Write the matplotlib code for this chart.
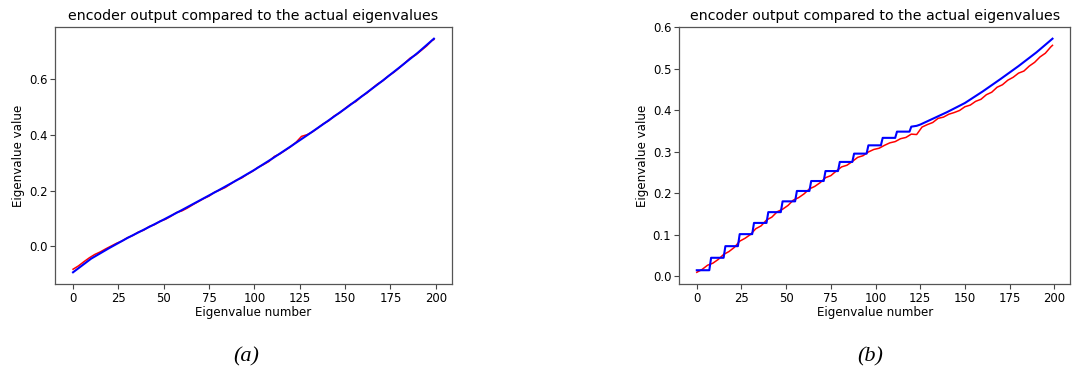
"""
encoder output vs actual eigenvalues, two panels
"""
import matplotlib
matplotlib.use("Agg")
import matplotlib.pyplot as plt

# ---- panel (a): smooth eigenvalues ----
actual_a_x = [0, 10, 20, 30, 40, 50, 60, 70, 80, 90, 100, 110, 120, 130, 140,
              150, 160, 170, 180, 190, 199]
actual_a_y = [-0.093, -0.044, -0.006, 0.030, 0.063, 0.096, 0.130, 0.165, 0.200,
              0.236, 0.274, 0.315, 0.358, 0.402, 0.447, 0.493, 0.541, 0.590,
              0.641, 0.693, 0.744]

encoder_a_x = list(range(0, 199, 3)) + [199]
encoder_a_y = [-0.082, -0.070, -0.055, -0.041, -0.029, -0.020, -0.009, 0.001,
               0.011, 0.019, 0.031, 0.039, 0.051, 0.058, 0.071, 0.078, 0.090,
               0.097, 0.108, 0.121, 0.127, 0.137, 0.149, 0.160, 0.171, 0.180,
               0.194, 0.202, 0.211, 0.224, 0.237, 0.245, 0.258, 0.269, 0.283,
               0.293, 0.304, 0.322, 0.331, 0.344, 0.357, 0.373, 0.394, 0.400,
               0.410, 0.424, 0.439, 0.450, 0.467, 0.478, 0.494, 0.509, 0.519,
               0.537, 0.549, 0.566, 0.582, 0.594, 0.611, 0.624, 0.640, 0.657,
               0.675, 0.686, 0.702, 0.718, 0.738, 0.741]

# ---- panel (b): degenerate eigenvalues (staircase) ----
actual_b_x = [0, 7, 8, 15, 16, 23, 24, 31, 32, 39, 40, 47, 48, 55, 56, 63, 64,
              71, 72, 79, 80, 87, 88, 95, 96, 103, 104, 111, 112, 119, 120, 123,
              125, 130, 140, 150, 160, 170, 180, 190, 199]
actual_b_y = [0.015, 0.015, 0.045, 0.045, 0.073, 0.073, 0.102, 0.102, 0.129,
              0.129, 0.155, 0.155, 0.181, 0.181, 0.206, 0.206, 0.230, 0.230,
              0.254, 0.254, 0.276, 0.276, 0.296, 0.296, 0.316, 0.316, 0.334,
              0.334, 0.349, 0.349, 0.361, 0.363, 0.366, 0.376, 0.396, 0.418,
              0.446, 0.476, 0.507, 0.540, 0.573]

encoder_b_x = list(range(0, 199, 3)) + [199]
encoder_b_y = [0.010, 0.017, 0.027, 0.032, 0.041, 0.053, 0.060, 0.070, 0.085,
               0.092, 0.101, 0.115, 0.122, 0.136, 0.143, 0.156, 0.162, 0.171,
               0.184, 0.190, 0.199, 0.211, 0.217, 0.226, 0.238, 0.243, 0.254,
               0.264, 0.268, 0.277, 0.287, 0.291, 0.300, 0.306, 0.309, 0.316,
               0.322, 0.325, 0.332, 0.335, 0.343, 0.342, 0.360, 0.366, 0.371,
               0.381, 0.384, 0.391, 0.395, 0.400, 0.409, 0.413, 0.422, 0.427,
               0.438, 0.444, 0.456, 0.462, 0.473, 0.480, 0.490, 0.495, 0.507,
               0.516, 0.529, 0.538, 0.553, 0.557]

xticks = [0, 25, 50, 75, 100, 125, 150, 175, 200]
yticks_a = [0.0, 0.2, 0.4, 0.6]
yticks_b = [0.0, 0.1, 0.2, 0.3, 0.4, 0.5, 0.6]
title = "encoder output compared to the actual eigenvalues"
captions = ["(a)", "(b)"]

plt.rcParams["font.family"] = ["DejaVu Sans"]
fig = plt.figure(figsize=(10.72, 3.68), dpi=100)
ax_a = fig.add_axes([0.0513, 0.2283, 0.3703, 0.6983])
ax_b = fig.add_axes([0.6334, 0.2283, 0.3650, 0.6983])

panels = [
    (ax_a, encoder_a_x, encoder_a_y, actual_a_x, actual_a_y, yticks_a),
    (ax_b, encoder_b_x, encoder_b_y, actual_b_x, actual_b_y, yticks_b),
]

for ax, ex, ey, axx, ayy, yt in panels:
    ax.plot(ex, ey, color="red", lw=1.1)
    ax.plot(axx, ayy, color="blue", lw=1.5)
    ax.set_xticks(xticks)
    ax.set_yticks(yt)
    ax.set_title(title, fontsize=10.2, pad=5)
    ax.set_xlabel("Eigenvalue number", fontsize=8.6, labelpad=1)
    ax.set_ylabel("Eigenvalue value", fontsize=8.6, labelpad=3)
    ax.tick_params(labelsize=8.4, length=3.5, width=0.8, color="#444", pad=2)
    for sp in ax.spines.values():
        sp.set_color("#555")
        sp.set_linewidth(0.9)

fig.text(0.230, 0.03, captions[0], fontsize=16, style="italic",
         family="Liberation Serif", ha="center", va="center")
fig.text(0.812, 0.03, captions[1], fontsize=16, style="italic",
         family="Liberation Serif", ha="center", va="center")

fig.savefig("out.png", dpi=100)
